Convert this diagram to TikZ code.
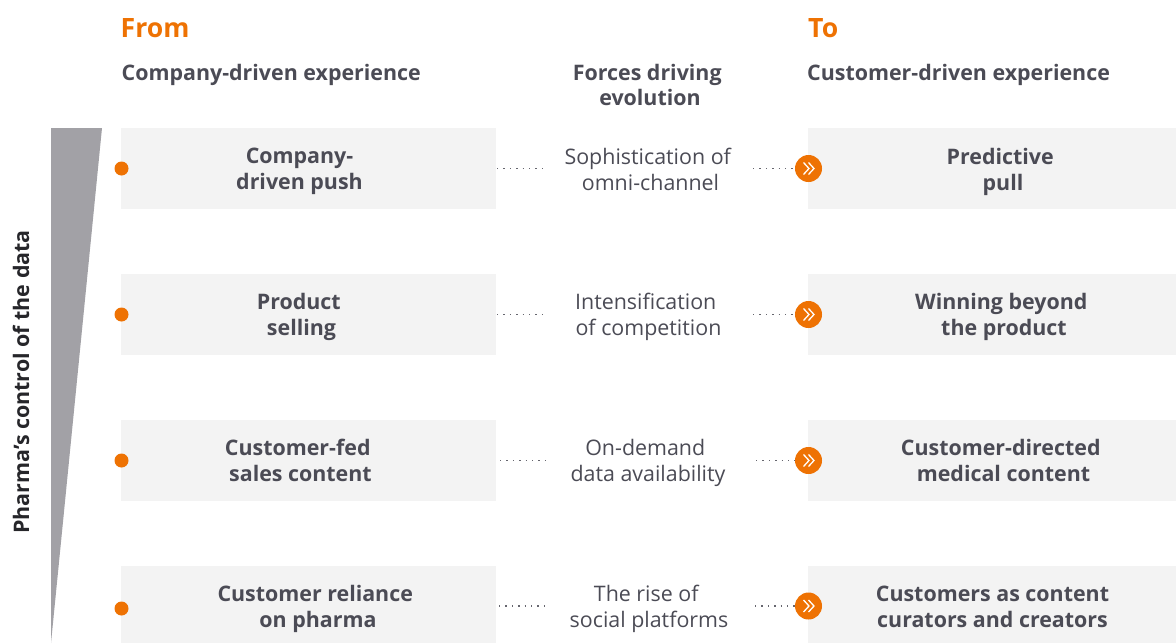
\documentclass[tikz,border=0pt]{standalone}
\usepackage{fontspec}
\setmainfont{Open Sans}
\definecolor{ink}{HTML}{4B4B55}
\definecolor{axisink}{HTML}{26262A}
\definecolor{org}{HTML}{EE7203}
\definecolor{boxg}{HTML}{F3F3F3}
\definecolor{wedge}{HTML}{A2A1A6}
\newcommand{\trail}{\kern5.5pt}
\begin{document}
\begin{tikzpicture}[x=1pt,y=-1pt,
  boxn/.style={fill=boxg,draw=none,inner sep=0pt,anchor=north west},
  boxtext/.style={font=\fontsize{21.4}{26}\selectfont\bfseries,text=ink,align=center,inner sep=0pt},
  midtext/.style={font=\fontsize{21.4}{26}\selectfont,text=ink,align=center,inner sep=0pt},
  head/.style={font=\fontsize{21.4}{25}\selectfont\bfseries,text=ink,inner sep=0pt},
  title/.style={font=\fontsize{26.6}{30}\selectfont\bfseries,text=org,inner sep=0pt,anchor=base west},
  dotn/.style={circle,fill=org,minimum size=14pt,inner sep=0pt},
  arrown/.style={circle,fill=org,minimum size=27pt,inner sep=0pt},
  chev/.style={draw=white,line width=1.3pt,line join=miter},
  link/.style={draw=ink!85,line width=1.4pt,dash pattern=on 1.3pt off 5.1pt}]
\useasboundingbox (0,0) rectangle (1176,643);
\fill[wedge] (51,128) -- (102,128) -- (51,643) -- cycle;
\node[title] (from) at (120.5,37) {From};
\node[title] (to) at (808,37) {To};
\node[head,anchor=base west] (h1) at (121.5,80) {Company-driven experience};
\node[head,anchor=base west] (h3) at (807,80) {Customer-driven experience};
\node[head,align=center] (h2) at (650,85) {Forces driving\trail\\evolution};
\node[head,rotate=90,text=axisink] (axis) at (21,382) {Pharma’s control of the data};
% boxes
\foreach \n/\y/\h in {1/128/81,2/274/81,3/420/81,4/566/77}{
  \node[boxn,minimum width=375pt,minimum height=\h pt] (L\n) at (121,\y) {};
  \node[boxn,minimum width=368pt,minimum height=\h pt] (R\n) at (808,\y) {};
}
% texts
\node[boxtext] (lt1) at (299.5,171.5) {Company-\\driven push};
\node[boxtext] (lt2) at (301.5,317) {Product\trail\\selling};
\node[boxtext] (lt3) at (300.5,460.5) {Customer-fed\trail\\sales content};
\node[boxtext] (lt4) at (318,608.5) {Customer reliance\trail\\on pharma};
\node[boxtext] (rt1) at (1003,172) {Predictive\trail\\pull};
\node[boxtext] (rt2) at (1004,317) {Winning beyond\trail\\the product};
\node[boxtext] (rt3) at (1003.5,460.5) {Customer-directed\trail\\medical content};
\node[boxtext] (rt4) at (992.5,606.5) {Customers as content\\curators and creators};
\node[midtext] (m1) at (650.5,169.5) {Sophistication of\trail\\omni-channel};
\node[midtext] (m2) at (648.5,317) {Intensification\trail\\of competition};
\node[midtext] (m3) at (648,463) {On-demand\trail\\data availability};
\node[midtext] (m4) at (649,608.5) {The rise of\trail\\social platforms};
% markers
\node[dotn] (d1) at (121.5,168.5) {};
\node[dotn] (d2) at (121.5,314.5) {};
\node[dotn] (d3) at (121.5,460.5) {};
\node[dotn] (d4) at (121.5,608.5) {};
\node[arrown] (a1) at (808.5,168.5) {};
\node[arrown] (a2) at (808.5,314.5) {};
\node[arrown] (a3) at (808.5,460.5) {};
\node[arrown] (a4) at (808.5,606) {};
% connectors and chevrons
\foreach \n/\y/\a/\b/\c in {1/168.5/497/545/753,2/314.5/497/545/753,3/460.5/500/547/756,4/606/499/547/755}{
  \coordinate (s\n) at (\a,\y);
  \coordinate (e\n) at (\b,\y);
  \coordinate (t\n) at (\c,\y);
  \draw[link] (s\n) -- (e\n);
  \draw[link] (t\n) -- (a\n.west);
  \draw[chev,shift={(a\n.center)}] (-5,-6) -- (0.5,0) -- (-5,6);
  \draw[chev,shift={(a\n.center)}] (0,-6) -- (5.5,0) -- (0,6);
}
\end{tikzpicture}
\end{document}
